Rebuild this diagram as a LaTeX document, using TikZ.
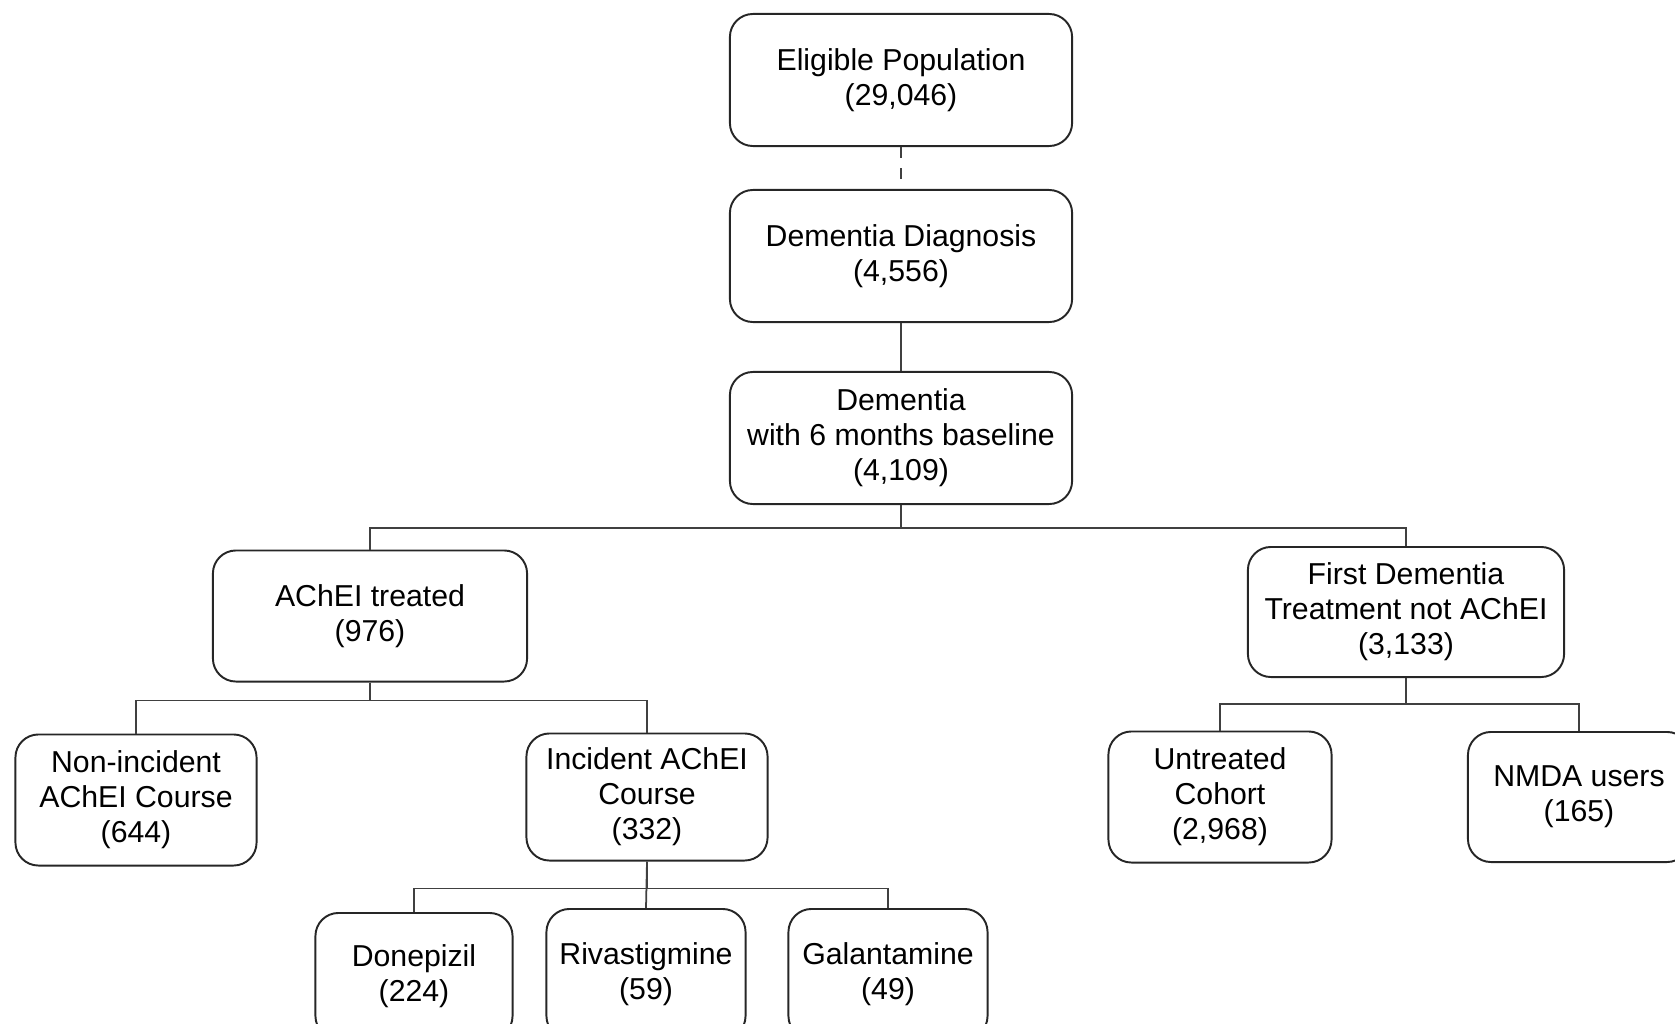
\documentclass[tikz,border=0pt]{standalone}
\usepackage{fontspec}
\setmainfont{Liberation Sans}
\usetikzlibrary{positioning}

\begin{document}
\begin{tikzpicture}[x=0.01cm, y=-0.01cm,
    caja/.style={draw=black!85, line width=0.55pt, rounded corners=0.23cm, align=center,
        inner sep=0pt, font=\fontsize{8.6}{10}\selectfont},
    linea/.style={draw=black!75, line width=0.5pt}]
    % Marco de la imagen
    \useasboundingbox (0,0) rectangle (1675,1024);

    % Cajas superiores
    \node[caja, minimum width=3.42cm, minimum height=1.32cm] (elig) at (901,80) {Eligible Population\\(29,046)};
    \node[caja, minimum width=3.42cm, minimum height=1.32cm] (diag) at (901,256) {Dementia Diagnosis\\(4,556)};
    \node[caja, minimum width=3.42cm, minimum height=1.32cm] (base) at (901,438) {Dementia\\with 6 months baseline\\(4,109)};

    % Segundo nivel
    \node[caja, minimum width=3.14cm, minimum height=1.31cm] (treated) at (370,616) {AChEI treated\\(976)};
    \node[caja, minimum width=3.16cm, minimum height=1.30cm] (firsttx) at (1406,612) {First Dementia\\Treatment not AChEI\\(3,133)};

    % Tercer nivel
    \node[caja, minimum width=2.41cm, minimum height=1.31cm] (nonincid) at (136,800) {Non-incident\\AChEI Course\\(644)};
    \node[caja, minimum width=2.41cm, minimum height=1.27cm] (incid) at (647,797) {Incident AChEI\\Course\\(332)};
    \node[caja, minimum width=2.23cm, minimum height=1.31cm] (untreated) at (1220,797) {Untreated\\Cohort\\(2,968)};
    \node[caja, minimum width=2.22cm, minimum height=1.30cm] (nmda) at (1579,797) {NMDA users\\(165)};

    % Farmacos
    \node[caja, minimum width=1.97cm, minimum height=1.26cm] (donep) at (414,976) {Donepizil\\(224)};
    \node[caja, minimum width=1.99cm, minimum height=1.30cm] (rivas) at (646,974) {Rivastigmine\\(59)};
    \node[caja, minimum width=1.99cm, minimum height=1.30cm] (galan) at (888,974) {Galantamine\\(49)};

    % Conexiones
    \draw[linea, dash pattern=on 3pt off 3pt] (elig) -- (diag);
    \draw[linea] (diag) -- (base);
    \draw[linea] (base.south) -- ++(0,23) -| (treated.north);
    \draw[linea] (base.south) -- ++(0,23) -| (firsttx.north);
    \draw[linea] (treated.south) -- ++(0,18) -| (nonincid.north);
    \draw[linea] (treated.south) -- ++(0,18) -| (incid.north);
    \draw[linea] (firsttx.south) -- ++(0,26) -| (untreated.north);
    \draw[linea] (firsttx.south) -- ++(0,26) -| (nmda.north);
    \draw[linea] (incid.south) -- ++(0,27) -| (donep.north);
    \draw[linea] (incid.south) -- (rivas.north);
    \draw[linea] (incid.south) -- ++(0,27) -| (galan.north);
\end{tikzpicture}
\end{document}
